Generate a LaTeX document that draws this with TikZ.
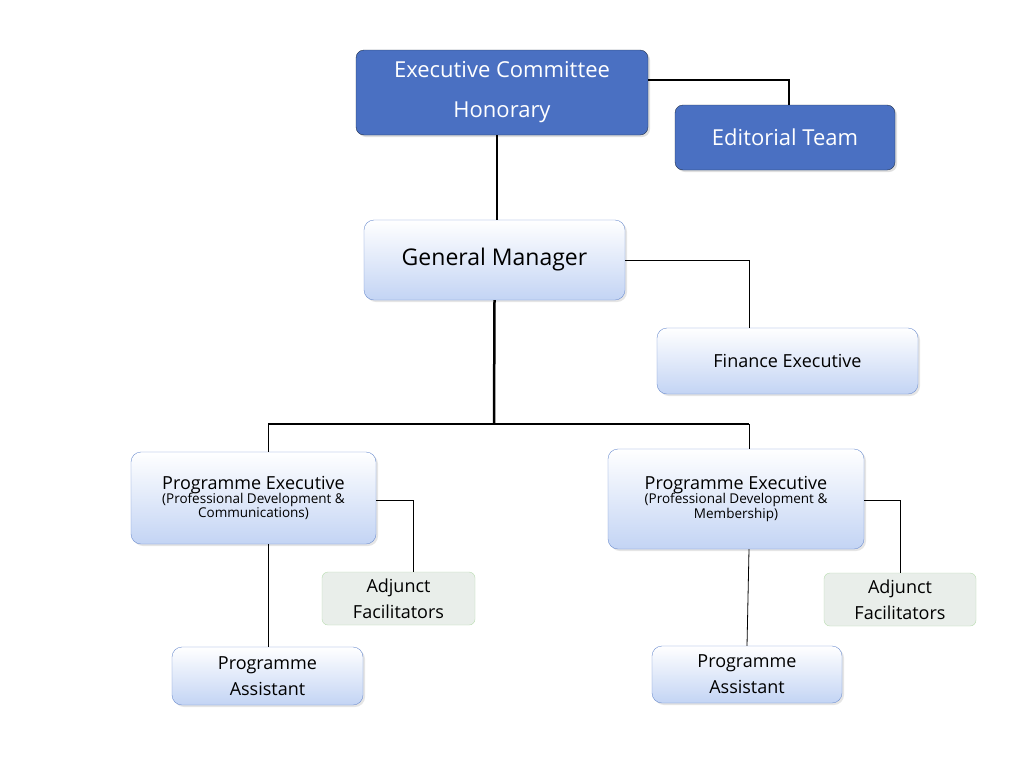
\documentclass[tikz,border=0pt]{standalone}
\usepackage{fontspec}
\setmainfont{Open Sans}
\usetikzlibrary{shadows}
\definecolor{darkbox}{HTML}{4A70C2}
\definecolor{darkedge}{HTML}{22324F}
\definecolor{lightedge}{HTML}{6E8FD0}
\definecolor{lightfill}{HTML}{C3D4F4}
\definecolor{greenedge}{HTML}{B9DDB0}
\definecolor{greenfill}{HTML}{E9EEEA}

\tikzset{
  darkunit/.style={draw=darkedge,fill=darkbox,rounded corners=8pt,text=white,
    align=center,inner sep=0pt,drop shadow={opacity=0.25,shadow xshift=2pt,shadow yshift=-2pt}},
  lightunit/.style={draw=lightedge,top color=white,bottom color=lightfill,rounded corners=10pt,
    align=center,inner sep=0pt,drop shadow={opacity=0.2,shadow xshift=2pt,shadow yshift=-2pt}},
  adjunct/.style={draw=greenedge,fill=greenfill,rounded corners=6pt,align=center,inner sep=0pt},
  thickline/.style={line width=2.5pt},
  thinline/.style={line width=0.8pt}
}

\begin{document}
\begin{tikzpicture}[x=1pt,y=-1pt]
  \useasboundingbox[fill=white] (0,0) rectangle (1024,769);

  \node[darkunit,minimum width=292pt,minimum height=85pt,font=\fontsize{22}{40}\selectfont] (exec) at (502,92.5) {Executive Committee\\Honorary};
  \node[darkunit,minimum width=220pt,minimum height=65pt,font=\fontsize{22}{26}\selectfont] (editorial) at (785,137.5) {Editorial Team};
  \node[lightunit,minimum width=261pt,minimum height=80pt,font=\fontsize{23}{28}\selectfont] (gm) at (494.5,260) {General Manager};
  \node[lightunit,minimum width=261pt,minimum height=66pt,font=\fontsize{18}{22}\selectfont] (finance) at (787.5,361) {Finance Executive};

  \node[lightunit,minimum width=245pt,minimum height=92pt] (peleft) at (253.5,498)
    {\fontsize{18}{24}\selectfont Programme Executive\\[-2pt]\fontsize{13.5}{20}\selectfont (Professional Development \&\\\fontsize{13.5}{20}\selectfont Communications)};
  \node[lightunit,minimum width=256pt,minimum height=100pt] (peright) at (736,499)
    {\fontsize{18}{24}\selectfont Programme Executive\\[-2pt]\fontsize{13.5}{20}\selectfont (Professional Development \&\\\fontsize{13.5}{20}\selectfont Membership)};

  \node[adjunct,minimum width=153pt,minimum height=53pt,font=\fontsize{18}{26}\selectfont] (adjleft) at (398.5,598.5) {Adjunct\\Facilitators};
  \node[adjunct,minimum width=152pt,minimum height=53pt,font=\fontsize{18}{26}\selectfont] (adjright) at (900,599.5) {Adjunct\\Facilitators};
  \node[lightunit,minimum width=191pt,minimum height=58pt,font=\fontsize{18}{26}\selectfont] (paleft) at (267.5,676) {Programme\\Assistant};
  \node[lightunit,minimum width=190pt,minimum height=57pt,font=\fontsize{18}{26}\selectfont] (paright) at (747,674.5) {Programme\\Assistant};

  % connectors
  \coordinate (split) at (494,424);
  \draw[thickline] (exec.east |- 0,80) -| (editorial.north -| 789,0);
  \draw[thickline] (exec.south -| 497,0) -- (gm.north -| 497,0);
  \draw[thinline] (gm.east) -| (finance.north -| 749,0);
  \draw[thickline] (gm.south) -- (split);
  \draw[thickline] (split -| 268,0) -- (split -| 749,0);
  \draw[thinline] (split -| 268,0) -- (peleft.north -| 268,0);
  \draw[thinline] (split -| 749,0) -- (peright.north -| 749,0);
  \draw[thinline] (peleft.east |- 0,500) -| (adjleft.north -| 413,0);
  \draw[thinline] (peright.east |- 0,500) -| (adjright.north -| 900,0);
  \draw[thinline] (peleft.south -| 268,0) -- (paleft.north -| 268,0);
  \draw[thinline] (peright.south -| 749,0) -- (paright.north -| 747,0);
\end{tikzpicture}
\end{document}
